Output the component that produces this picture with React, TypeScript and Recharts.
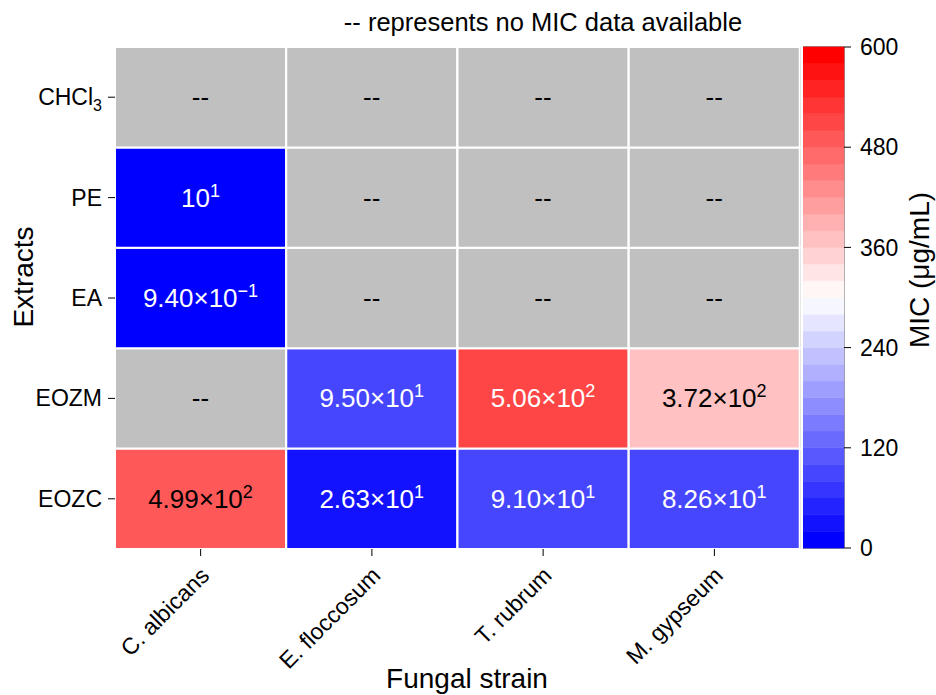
import { BarChart, Bar, XAxis, YAxis, Cell, LabelList, ReferenceArea } from "recharts";

const FONT = "'Liberation Sans', Arial, sans-serif";

const strains = ["C. albicans", "E. floccosum", "T. rubrum", "M. gypseum"];
const extracts = ["CHCl3", "PE", "EA", "EOZM", "EOZC"];

// MIC in µg/mL, one value per strain (null = no MIC data)
const micCHCl3: (number | null)[] = [null, null, null, null];
const micPE: (number | null)[] = [10, null, null, null];
const micEA: (number | null)[] = [0.94, null, null, null];
const micEOZM: (number | null)[] = [null, 95, 506, 372];
const micEOZC: (number | null)[] = [499, 26.3, 91, 82.6];

const micByExtract: Record<string, (number | null)[]> = {
  CHCl3: micCHCl3,
  PE: micPE,
  EA: micEA,
  EOZM: micEOZM,
  EOZC: micEOZC,
};

const cbTicks = [0, 120, 240, 360, 480, 600];
const cbMax = 600;
const cbLevels = 30;

// matplotlib "bwr", quantized to cbLevels colours
function bwr(t: number) {
  let r, g, b;
  if (t < 0.5) {
    r = g = Math.round(2 * t * 255);
    b = 255;
  } else {
    r = 255;
    g = b = Math.round(2 * (1 - t) * 255);
  }
  return [r, g, b];
}
function levelRgb(i: number) {
  return bwr(i / (cbLevels - 1));
}
function rgbStr(c: number[]) {
  return `rgb(${c[0]},${c[1]},${c[2]})`;
}
function micRgb(v: number | null) {
  if (v == null) return [192, 192, 192];
  const i = Math.min(cbLevels - 1, Math.max(0, Math.floor((v / cbMax) * cbLevels)));
  return levelRgb(i);
}
function textColor(v: number | null) {
  const c = micRgb(v);
  const lum = 0.299 * c[0] + 0.587 * c[1] + 0.114 * c[2];
  return lum > 128 ? "#000" : "#fff";
}

const rows = strains.map((s, i) => {
  const row: Record<string, any> = { strain: s };
  extracts.forEach((e) => {
    row[e] = 1; // every cell is one row high
    row["mic_" + e] = micByExtract[e][i];
  });
  return row;
});

const cbRow: Record<string, any> = { name: "cb" };
for (let k = 0; k < cbLevels; k++) cbRow["b" + k] = cbMax / cbLevels;

function sciParts(v: number) {
  const e = Math.floor(Math.log10(v));
  const m = v / Math.pow(10, e);
  const exp = e < 0 ? "\u2212" + Math.abs(e) : String(e);
  return { mant: Math.abs(m - 1) < 1e-9 ? null : m.toFixed(2), exp };
}

function cellLabel(extract: string) {
  return (p: any) => {
    const vb = p.viewBox || p;
    const x = Number(p.x ?? vb.x);
    const y = Number(p.y ?? vb.y);
    const w = Number(p.width ?? vb.width);
    const h = Number(p.height ?? vb.height);
    const v = micByExtract[extract][p.index];
    const cx = x + w / 2;
    const cy = y + h / 2;
    if (v == null) {
      return (
        <text x={cx} y={cy} dy={9} textAnchor="middle" fontSize={26} fontFamily={FONT} fill="#000">
          --
        </text>
      );
    }
    const { mant, exp } = sciParts(v);
    return (
      <text x={cx} y={cy} dy={9} textAnchor="middle" fontSize={26} fontFamily={FONT} fill={textColor(v)}>
        {mant ? `${mant}\u00d710` : "10"}
        <tspan dy={-10} fontSize={18}>
          {exp}
        </tspan>
      </text>
    );
  };
}

const XTick = (p: any) => (
  <text
    transform={`translate(${p.x + 10},${p.y + 19}) rotate(-45)`}
    textAnchor="end"
    fontSize={23}
    fontFamily={FONT}
    fill="#000"
  >
    {p.payload.value}
  </text>
);

const YTick = (p: any) => {
  const name = extracts[extracts.length - 1 - Math.floor(p.payload.value)];
  return (
    <text x={p.x} y={p.y} dy={8} textAnchor="end" fontSize={23} fontFamily={FONT} fill="#000">
      {name === "CHCl3" ? (
        <>
          <tspan>CHCl</tspan>
          <tspan dy={6} fontSize={16}>
            3
          </tspan>
        </>
      ) : (
        name
      )}
    </text>
  );
};

const abs = (style: React.CSSProperties): React.CSSProperties => ({
  position: "absolute",
  fontFamily: FONT,
  color: "#000",
  whiteSpace: "nowrap",
  textAlign: "center",
  ...style,
});

export default function App() {
  const stackOrder = [...extracts].reverse(); // bottom row first
  return (
    <div style={{ position: "absolute", left: 0, top: 0, width: 936, height: 695, background: "#fff" }}>
      <BarChart
        width={936}
        height={695}
        data={rows}
        margin={{ top: 47, right: 136, bottom: 0, left: 0 }}
        barCategoryGap={0}
        barGap={0}
      >
        <XAxis
          dataKey="strain"
          height={146}
          tickSize={7}
          axisLine={false}
          tickLine={{ stroke: "#000" }}
          tick={<XTick />}
          interval={0}
        />
        <YAxis
          type="number"
          domain={[0, extracts.length]}
          ticks={[0.5, 1.5, 2.5, 3.5, 4.5]}
          width={115}
          tickSize={7}
          tickMargin={6}
          axisLine={false}
          tickLine={{ stroke: "#000" }}
          tick={<YTick />}
          interval={0}
        />
        {stackOrder.map((e) => (
          <Bar key={e} dataKey={e} stackId="cells" stroke="#fff" strokeWidth={2} isAnimationActive={false}>
            {rows.map((r, i) => (
              <Cell key={i} fill={rgbStr(micRgb(r["mic_" + e]))} />
            ))}
            <LabelList dataKey={e} content={cellLabel(e)} />
          </Bar>
        ))}
        <ReferenceArea y1={0} y2={extracts.length} fill="none" stroke="#333" strokeWidth={1} ifOverflow="visible" />
      </BarChart>

      <div style={{ position: "absolute", left: 803, top: 0 }}>
        <BarChart
          width={133}
          height={695}
          data={[cbRow]}
          margin={{ top: 47, right: 0, bottom: 147, left: 0 }}
          barCategoryGap={0}
          barGap={0}
        >
          <XAxis dataKey="name" hide />
          <YAxis
            orientation="right"
            type="number"
            domain={[0, cbMax]}
            ticks={cbTicks}
            width={92}
            tickSize={7}
            tickMargin={9}
            axisLine={false}
            tickLine={{ stroke: "#000" }}
            tick={{ fontSize: 23, fill: "#000", fontFamily: FONT }}
            interval={0}
          />
          {Array.from({ length: cbLevels }, (_, k) => (
            <Bar
              key={k}
              dataKey={"b" + k}
              stackId="cb"
              fill={rgbStr(levelRgb(k))}
              stroke={rgbStr(levelRgb(k))}
              strokeWidth={0.6}
              isAnimationActive={false}
            />
          ))}
          <ReferenceArea y1={0} y2={cbMax} fill="none" stroke="#333" strokeWidth={1} ifOverflow="visible" />
        </BarChart>
      </div>

      <div style={abs({ left: 243, top: 9, width: 600, fontSize: 25.5, lineHeight: "26px" })}>
        -- represents no MIC data available
      </div>
      <div style={abs({ left: 267, top: 659, width: 400, height: 40, fontSize: 28, lineHeight: "40px" })}>
        Fungal strain
      </div>
      <div
        style={abs({
          left: 24 - 100,
          top: 277 - 20,
          width: 200,
          height: 40,
          fontSize: 28,
          lineHeight: "40px",
          transform: "rotate(-90deg)",
        })}
      >
        Extracts
      </div>
      <div
        style={abs({
          left: 920 - 120,
          top: 270 - 20,
          width: 240,
          height: 40,
          fontSize: 28,
          lineHeight: "40px",
          transform: "rotate(-90deg)",
        })}
      >
        MIC (μg/mL)
      </div>
    </div>
  );
}
